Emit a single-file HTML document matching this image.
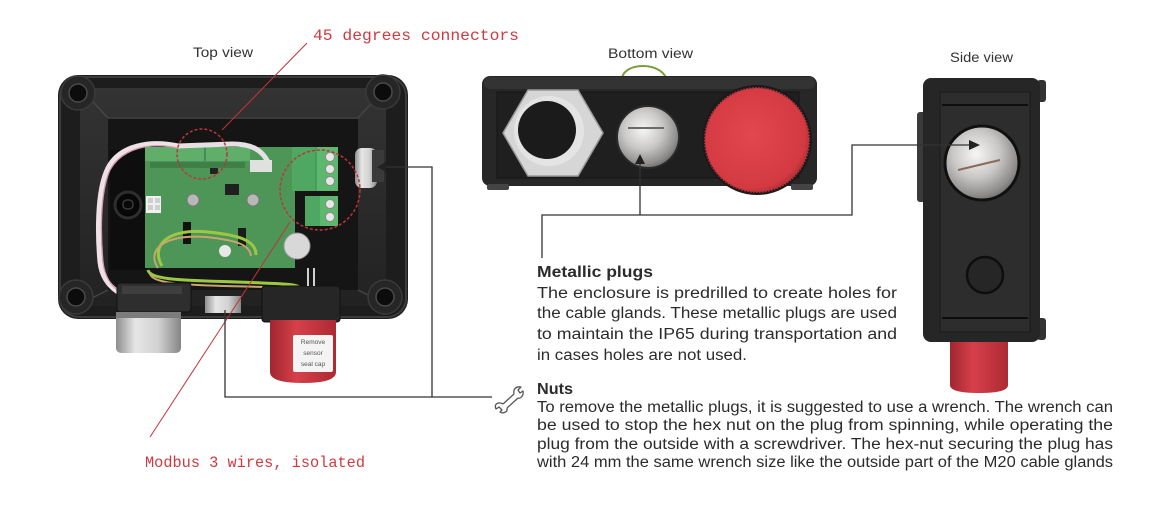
<!DOCTYPE html>
<html><head><meta charset="utf-8">
<style>
html,body{margin:0;padding:0;background:#fff;}
svg{display:block;}
</style></head><body>
<svg width="1164" height="530" viewBox="0 0 1164 530" xmlns="http://www.w3.org/2000/svg">
<defs>
 <radialGradient id="metal" cx="0.42" cy="0.38" r="0.7">
  <stop offset="0" stop-color="#f6f6f6"/>
  <stop offset="0.45" stop-color="#cac8c6"/>
  <stop offset="0.8" stop-color="#8e8c8a"/>
  <stop offset="1" stop-color="#5a5856"/>
 </radialGradient>
 <linearGradient id="cyl" x1="0" x2="1" y1="0" y2="0">
  <stop offset="0" stop-color="#8e8e8e"/>
  <stop offset="0.3" stop-color="#e6e6e6"/>
  <stop offset="0.65" stop-color="#d2d2d2"/>
  <stop offset="1" stop-color="#858585"/>
 </linearGradient>
 <radialGradient id="red" cx="0.45" cy="0.45" r="0.6">
  <stop offset="0" stop-color="#e2464e"/>
  <stop offset="0.85" stop-color="#d43a42"/>
  <stop offset="1" stop-color="#a52a30"/>
 </radialGradient>
 <linearGradient id="redcyl" x1="0" x2="1" y1="0" y2="0">
  <stop offset="0" stop-color="#a02630"/>
  <stop offset="0.4" stop-color="#d6404a"/>
  <stop offset="1" stop-color="#ad2a32"/>
 </linearGradient>
 <linearGradient id="wall" x1="0" x2="0" y1="0" y2="1">
  <stop offset="0" stop-color="#333"/>
  <stop offset="1" stop-color="#222"/>
 </linearGradient>
</defs>

<!-- ================= TOP VIEW ================= -->
<rect x="58" y="75" width="350" height="244" rx="20" fill="#1d1d1d"/>
<rect x="60" y="77" width="346" height="240" rx="19" fill="none" stroke="#3c3c3c" stroke-width="2"/>
<rect x="80" y="88" width="306" height="218" rx="10" fill="url(#wall)"/>
<rect x="108" y="118" width="250" height="172" fill="#151515"/>
<g stroke="#454545" stroke-width="1.5">
 <line x1="84" y1="92" x2="108" y2="118"/>
 <line x1="382" y1="92" x2="358" y2="118"/>
 <line x1="84" y1="302" x2="108" y2="290"/>
 <line x1="382" y1="302" x2="358" y2="290"/>
</g>
<line x1="108" y1="118" x2="358" y2="118" stroke="#3a3a3a" stroke-width="2"/>
<g fill="#262626" stroke="#3a3a3a" stroke-width="1.5">
 <circle cx="78" cy="93" r="17"/>
 <circle cx="383" cy="92" r="17"/>
 <circle cx="76" cy="297" r="17"/>
 <circle cx="385" cy="297" r="17"/>
</g>
<g fill="#0c0c0c" stroke="#4a4a4a" stroke-width="1.5">
 <circle cx="78" cy="93" r="9"/>
 <circle cx="383" cy="92" r="9"/>
 <circle cx="76" cy="297" r="9"/>
 <circle cx="385" cy="297" r="9"/>
</g>
<rect x="110" y="150" width="36" height="120" fill="#0e0e0e"/>
<circle cx="128" cy="205" r="13" fill="#070707" stroke="#2e2e2e" stroke-width="3"/>
<rect x="123" y="200" width="10" height="9" rx="4" fill="none" stroke="#3a3a3a" stroke-width="1.5"/>
<rect x="145" y="147" width="150" height="121" fill="#4e9658"/>
<rect x="145" y="147" width="105" height="14" fill="#5fae6a"/>
<line x1="205" y1="147" x2="205" y2="161" stroke="#2f6a3a"/>
<rect x="150" y="162" width="95" height="6" fill="#3f8049"/>
<rect x="146" y="196" width="15" height="17" fill="#f0f0f0"/>
<g fill="#cfcfcf"><rect x="148" y="198" width="5" height="5"/><rect x="155" y="198" width="5" height="5"/><rect x="148" y="205" width="5" height="5"/><rect x="155" y="205" width="5" height="5"/></g>
<circle cx="193" cy="200" r="6" fill="#b8b8b8" stroke="#777"/>
<circle cx="253" cy="200" r="6" fill="#b8b8b8" stroke="#777"/>
<rect x="225" y="184" width="14" height="11" fill="#202020"/>
<rect x="210" y="168" width="8" height="6" fill="#222"/>
<rect x="183" y="222" width="8" height="22" fill="#111"/>
<rect x="238" y="228" width="8" height="18" fill="#1a1a1a"/>
<circle cx="225" cy="251" r="6" fill="#e8e8e8"/>
<circle cx="297" cy="246" r="13" fill="#d8d8d8" stroke="#999"/>
<rect x="250" y="160" width="22" height="12" fill="#e0e0e0"/>
<path d="M178,146 C150,140 120,145 108,168 C96,192 98,240 100,262 C102,280 112,288 118,292" fill="none" stroke="#eee2e6" stroke-width="5"/>
<path d="M178,148 C150,142 122,148 110,170 C99,194 101,240 103,262 C105,280 114,288 120,292" fill="none" stroke="#d49aaa" stroke-width="1.3"/>
<path d="M178,146 L232,144 C252,144 262,150 268,162" fill="none" stroke="#e6dfe3" stroke-width="5"/>
<path d="M162,266 C150,245 168,228 208,232 C238,235 256,240 256,255" fill="none" stroke="#9cc840" stroke-width="3"/>
<path d="M158,268 C146,250 164,234 206,237 C234,240 250,244 251,256" fill="none" stroke="#c8a570" stroke-width="2"/>
<path d="M148,270 C150,282 200,280 262,283 C290,284 300,284 306,292" fill="none" stroke="#9cc840" stroke-width="3"/>
<path d="M150,274 C154,286 200,285 262,287 C288,288 298,288 303,294" fill="none" stroke="#c8a570" stroke-width="2"/>
<rect x="292" y="147" width="46" height="44" fill="#5cb86c"/>
<rect x="292" y="147" width="24" height="44" fill="#4ea862"/>
<line x1="316" y1="147" x2="316" y2="191" stroke="#3c8a4c"/>
<g fill="#e6e6e6" stroke="#8a8a8a"><circle cx="330" cy="157" r="4.5"/><circle cx="330" cy="169" r="4.5"/><circle cx="330" cy="181" r="4.5"/></g>
<rect x="305" y="196" width="33" height="30" fill="#5cb86c"/>
<rect x="305" y="196" width="15" height="30" fill="#4ea862"/>
<g fill="#e6e6e6" stroke="#8a8a8a"><circle cx="330" cy="204" r="4.5"/><circle cx="330" cy="217" r="4.5"/></g>
<rect x="355" y="148" width="22" height="40" rx="7" fill="url(#cyl)"/>
<rect x="372" y="150" width="12" height="32" fill="#3a3a3a"/>
<rect x="117" y="283" width="74" height="29" rx="3" fill="#2e2e2e" stroke="#111"/>
<rect x="122" y="286" width="60" height="8" fill="#3e3e3e"/>
<rect x="116" y="312" width="65" height="41" rx="5" fill="url(#cyl)"/>
<rect x="116" y="312" width="65" height="6" fill="#7c7c7c"/>
<rect x="205" y="296" width="36" height="17" fill="url(#cyl)"/>
<rect x="262" y="286" width="78" height="36" rx="3" fill="#262626" stroke="#111"/>
<line x1="308" y1="268" x2="308" y2="286" stroke="#cfcfcf" stroke-width="2"/>
<line x1="314" y1="268" x2="314" y2="286" stroke="#cfcfcf" stroke-width="2"/>
<path d="M270,320 L336,320 L336,372 Q336,383 303,383 Q270,383 270,372 Z" fill="url(#redcyl)"/>
<rect x="293" y="335" width="40" height="37" rx="2" fill="#f4f4f4"/>
<g font-family="Liberation Sans, sans-serif" font-size="6.5" fill="#555" text-anchor="middle">
 <text x="313" y="344">Remove</text>
 <text x="313" y="355">sensor</text>
 <text x="313" y="366">seal cap</text>
</g>

<circle cx="202" cy="154" r="25" fill="none" stroke="#c0333a" stroke-width="1.5" stroke-dasharray="3 2"/>
<circle cx="320" cy="190" r="40" fill="none" stroke="#c0333a" stroke-width="1.5" stroke-dasharray="3 2"/>
<line x1="307" y1="43" x2="222" y2="130" stroke="#c0333a" stroke-width="1"/>
<line x1="150" y1="437" x2="290" y2="222" stroke="#c0333a" stroke-width="1"/>

<!-- ================= BOTTOM VIEW ================= -->
<path d="M622,78 C625,62 660,62 666,78" fill="none" stroke="#7a9c3a" stroke-width="2"/>
<rect x="482" y="76" width="335" height="110" rx="8" fill="#272727"/>
<rect x="484" y="77" width="331" height="12" rx="6" fill="#333"/>
<rect x="487" y="184" width="22" height="6" rx="2" fill="#444"/>
<rect x="791" y="184" width="22" height="6" rx="2" fill="#444"/>
<rect x="497" y="92" width="302" height="86" fill="#1f1f1f" stroke="#141414"/>
<polygon points="603,133 578,176 528,176 503,133 528,90 578,90" fill="#d6d6d6" stroke="#9a9a9a" stroke-width="1.5"/>
<circle cx="549" cy="131" r="35" fill="#e4e4e4"/>
<circle cx="547" cy="130" r="29" fill="#1b1b1b"/>
<circle cx="648" cy="137" r="31" fill="url(#metal)" stroke="#2a2a2a" stroke-width="2"/>
<line x1="628" y1="128" x2="664" y2="128" stroke="#6a6a6a" stroke-width="2"/>
<circle cx="757" cy="140" r="55" fill="#1a1a1a"/>
<circle cx="757" cy="140" r="52" fill="url(#red)"/>
<circle cx="757" cy="140" r="52" fill="none" stroke="#b8333a" stroke-width="2" stroke-dasharray="1.5 1.5"/>

<!-- ================= SIDE VIEW ================= -->
<rect x="917" y="112" width="9" height="90" rx="3" fill="#3a3a3a"/>
<rect x="1037" y="80" width="9" height="22" rx="3" fill="#333"/>
<rect x="1037" y="318" width="9" height="22" rx="3" fill="#333"/>
<rect x="923" y="78" width="117" height="264" rx="8" fill="#262626"/>
<rect x="940" y="92" width="90" height="240" fill="#2d2d2d" stroke="#1a1a1a"/>
<line x1="942" y1="105" x2="1028" y2="105" stroke="#0d0d0d" stroke-width="2"/>
<line x1="942" y1="318" x2="1028" y2="318" stroke="#0d0d0d" stroke-width="2"/>
<circle cx="982" cy="163" r="37" fill="url(#metal)" stroke="#101010" stroke-width="3"/>
<line x1="958" y1="170" x2="1000" y2="160" stroke="#8a6a5a" stroke-width="2"/>
<circle cx="985" cy="275" r="18" fill="#262626" stroke="#0e0e0e" stroke-width="2.5"/>
<path d="M950,342 L1008,342 L1008,385 Q1008,393 979,393 Q950,393 950,385 Z" fill="url(#redcyl)"/>

<!-- ================= BLACK CONNECTORS ================= -->
<g fill="none" stroke="#333" stroke-width="1.3">
 <polyline points="225,310 225,397 492,397"/>
 <polyline points="432,397 432,167 384,167"/>
 <line x1="640" y1="215" x2="640" y2="162"/>
 <polyline points="542,258 542,215 852,215 852,145 970,145"/>
</g>
<g fill="#222">
 <polygon points="377,167 386,162 386,172"/>
 <polygon points="640,154 635,164 645,164"/>
 <polygon points="980,145 969,140 969,150"/>
</g>

<g fill="none" stroke="#555" stroke-width="1.3" stroke-linejoin="round">
 <path d="M503,404 L514,394"/>
 <path d="M507,408 L518,398"/>
 <path d="M503,404 C497,401 494,405 496,409 L499,407 L502,410 L500,412 C503,414 508,412 507,408"/>
 <path d="M514,394 C513,389 516,386 521,387 L518,390 L520,393 L523,391 C524,396 520,399 518,398"/>
</g>

<!-- ================= TEXT ================= -->
<g font-family="Liberation Sans, Arial, sans-serif" fill="#333">
 <text x="193" y="57" font-size="13.5" textLength="60" lengthAdjust="spacingAndGlyphs">Top view</text>
 <text x="608" y="58" font-size="13.5" textLength="85" lengthAdjust="spacingAndGlyphs">Bottom view</text>
 <text x="950" y="62" font-size="13.5" textLength="63" lengthAdjust="spacingAndGlyphs">Side view</text>
</g>
<g font-family="Liberation Mono, monospace" fill="#cf3a40" font-size="16">
 <text x="313" y="40" textLength="206" lengthAdjust="spacingAndGlyphs">45 degrees connectors</text>
 <text x="145" y="467" textLength="220" lengthAdjust="spacingAndGlyphs">Modbus 3 wires, isolated</text>
</g>
<g font-family="Liberation Sans, Arial, sans-serif" fill="#2b2b2b" font-size="15.5">
 <text x="537" y="277" font-weight="bold" textLength="116" lengthAdjust="spacingAndGlyphs">Metallic plugs</text>
 <text x="537" y="298" textLength="360" lengthAdjust="spacingAndGlyphs">The enclosure is predrilled to create holes for</text>
 <text x="537" y="318" textLength="360" lengthAdjust="spacingAndGlyphs">the cable glands. These metallic plugs are used</text>
 <text x="537" y="339" textLength="360" lengthAdjust="spacingAndGlyphs">to maintain the IP65 during transportation and</text>
 <text x="537" y="360" textLength="210" lengthAdjust="spacingAndGlyphs">in cases holes are not used.</text>

 <text x="537" y="394" font-weight="bold" textLength="36" lengthAdjust="spacingAndGlyphs">Nuts</text>
 <text x="537" y="412" textLength="576" lengthAdjust="spacingAndGlyphs">To remove the metallic plugs, it is suggested to use a wrench. The wrench can</text>
 <text x="537" y="430" textLength="576" lengthAdjust="spacingAndGlyphs">be used to stop the hex nut on the plug from spinning, while operating the</text>
 <text x="537" y="449" textLength="576" lengthAdjust="spacingAndGlyphs">plug from the outside with a screwdriver. The hex-nut securing the plug has</text>
 <text x="537" y="467" textLength="576" lengthAdjust="spacingAndGlyphs">with 24 mm the same wrench size like the outside part of the M20 cable glands</text>
</g>
</svg>
</body></html>
